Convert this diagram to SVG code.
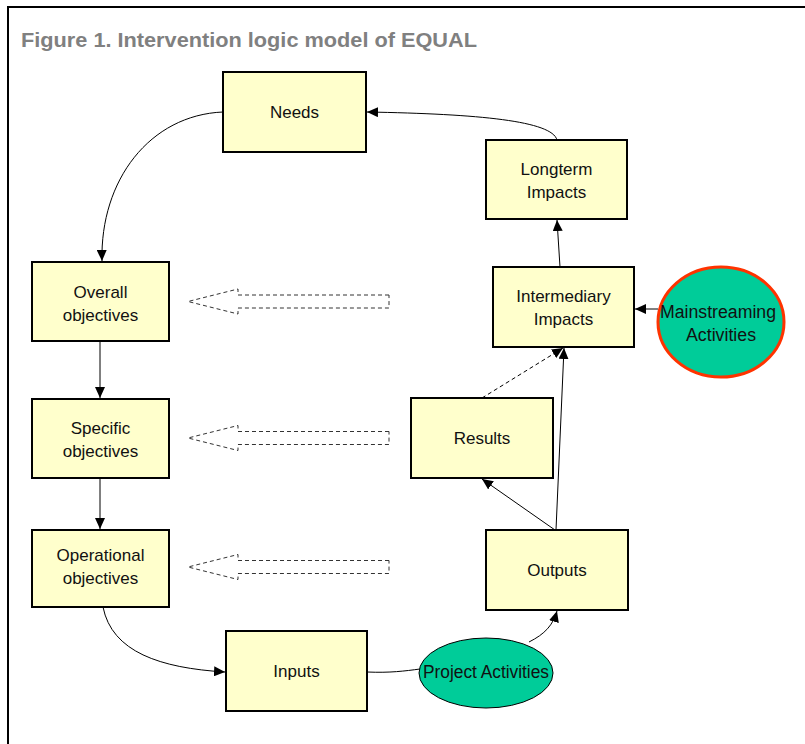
<svg xmlns="http://www.w3.org/2000/svg" width="805" height="744" viewBox="0 0 805 744">
  <defs>
    <marker id="arrow" markerUnits="userSpaceOnUse" markerWidth="12" markerHeight="10" refX="11" refY="5" orient="auto">
      <path d="M0,0 L11,5 L0,10 Z" fill="#000"/>
    </marker>
    <style>
      .box { fill: #FFFFCC; stroke: #000; stroke-width: 2; }
      .lbl { font-family: "Liberation Sans", Arial, sans-serif; font-size: 17px; fill: #111; text-anchor: middle; }
      .elbl { font-family: "Liberation Sans", Arial, sans-serif; font-size: 18px; fill: #111; text-anchor: middle; }
      .link { fill: none; stroke: #000; stroke-width: 1; }
      .dash { stroke-dasharray: 4 3; }
      .block { fill: #fff; stroke: #333; stroke-width: 1; stroke-dasharray: 4 3; }
      .title { font-family: "Liberation Sans", Arial, sans-serif; font-size: 20px; font-weight: bold; fill: #808080; }
    </style>
  </defs>

  <rect width="805" height="744" fill="#fff"/>
  <!-- frame -->
  <path d="M8,744 L8,7 L805,7" fill="none" stroke="#000" stroke-width="2"/>
  <text class="title" x="21" y="47" textLength="456" lengthAdjust="spacingAndGlyphs">Figure 1. Intervention logic model of EQUAL</text>

  <!-- comparison arrows between objectives and outcomes -->
  <g id="comparisons">
    <path class="block" d="M389,295 L238,295 L238,289 L188,301.5 L238,314 L238,308 L389,308 Z"/>
    <path class="block" d="M389,431.5 L238,431.5 L238,425.5 L188,438 L238,450.5 L238,444.5 L389,444.5 Z"/>
    <path class="block" d="M389,560.5 L238,560.5 L238,554.5 L188,567 L238,579.5 L238,573.5 L389,573.5 Z"/>
  </g>

  <g id="connectors">
    <path class="link" d="M557,140 C552,121 480,114 367,112" marker-end="url(#arrow)"/>
    <path class="link" d="M223,112 C150,115 100,180 102,261" marker-end="url(#arrow)"/>
    <path class="link" d="M100,341 L100,398" marker-end="url(#arrow)"/>
    <path class="link" d="M100,478 L100,529" marker-end="url(#arrow)"/>
    <path class="link" d="M103,607 C112,652 160,668 225,672" marker-end="url(#arrow)"/>
    <path class="link" d="M367,672 C390,673 405,671 420,669"/>
    <path class="link" d="M529,642 C545,634 553,625 557,611" marker-end="url(#arrow)"/>
    <path class="link" d="M555,530 L482,479" marker-end="url(#arrow)"/>
    <path class="link" d="M556,530 L564,348" marker-end="url(#arrow)"/>
    <path class="link dash" d="M482,398 L563,348" marker-end="url(#arrow)"/>
    <path class="link" d="M560,267 L557,220" marker-end="url(#arrow)"/>
    <path class="link" d="M658,309 L635,309" marker-end="url(#arrow)"/>
  </g>

  <g id="needs">
    <rect class="box" x="223" y="72" width="143" height="80"/>
    <text class="lbl" x="294.5" y="118">Needs</text>
  </g>
  <g id="longterm-impacts">
    <rect class="box" x="486" y="140" width="141" height="79"/>
    <text class="lbl" x="556.5" y="175">Longterm</text>
    <text class="lbl" x="556.5" y="198">Impacts</text>
  </g>
  <g id="overall-objectives">
    <rect class="box" x="32" y="262" width="137" height="79"/>
    <text class="lbl" x="100.5" y="298">Overall</text>
    <text class="lbl" x="100.5" y="321">objectives</text>
  </g>
  <g id="intermediary-impacts">
    <rect class="box" x="493" y="267" width="141" height="80"/>
    <text class="lbl" x="563.5" y="302">Intermediary</text>
    <text class="lbl" x="563.5" y="325">Impacts</text>
  </g>
  <g id="specific-objectives">
    <rect class="box" x="32" y="399" width="137" height="79"/>
    <text class="lbl" x="100.5" y="434">Specific</text>
    <text class="lbl" x="100.5" y="457">objectives</text>
  </g>
  <g id="results">
    <rect class="box" x="411" y="398" width="142" height="80"/>
    <text class="lbl" x="482" y="444">Results</text>
  </g>
  <g id="operational-objectives">
    <rect class="box" x="32" y="530" width="137" height="77"/>
    <text class="lbl" x="100.5" y="561">Operational</text>
    <text class="lbl" x="100.5" y="584">objectives</text>
  </g>
  <g id="outputs">
    <rect class="box" x="486" y="530" width="142" height="80"/>
    <text class="lbl" x="557" y="576">Outputs</text>
  </g>
  <g id="inputs">
    <rect class="box" x="226" y="631" width="141" height="80"/>
    <text class="lbl" x="296.5" y="677">Inputs</text>
  </g>
  <g id="mainstreaming-activities">
    <ellipse cx="721" cy="322" rx="63" ry="55" fill="#00CC99" stroke="#FF3300" stroke-width="3"/>
    <text class="elbl" x="718" y="318" textLength="116" lengthAdjust="spacingAndGlyphs">Mainstreaming</text>
    <text class="elbl" x="721" y="341" textLength="70" lengthAdjust="spacingAndGlyphs">Activities</text>
  </g>
  <g id="project-activities">
    <ellipse cx="486" cy="673" rx="67" ry="35" fill="#00CC99" stroke="#000" stroke-width="1"/>
    <text class="elbl" x="486" y="678" textLength="126" lengthAdjust="spacingAndGlyphs">Project Activities</text>
  </g>
</svg>
